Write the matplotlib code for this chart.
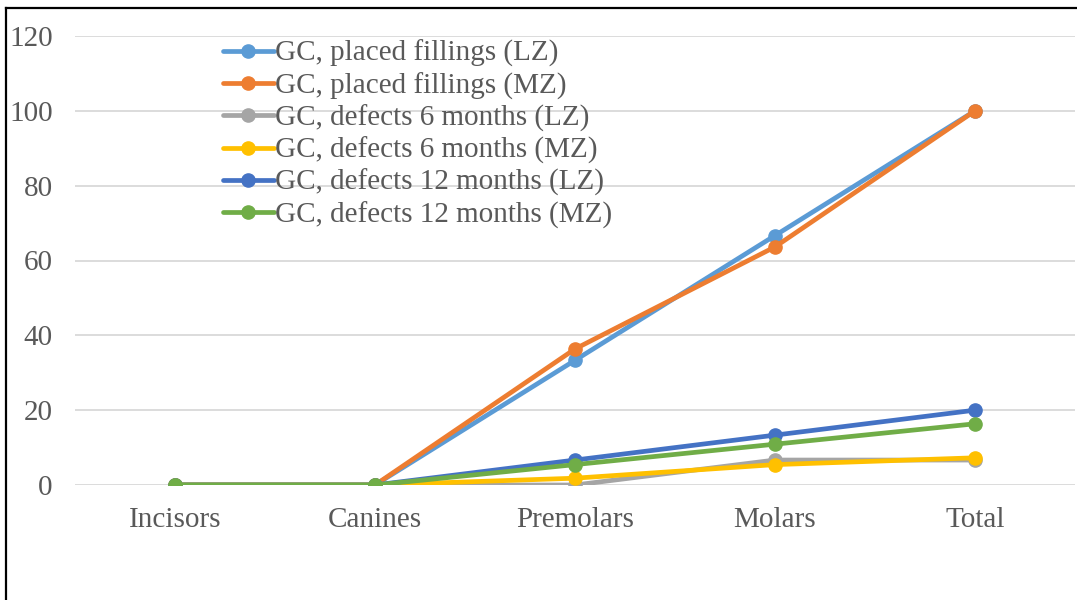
import matplotlib
matplotlib.use('Agg')
import matplotlib.pyplot as plt
from matplotlib.lines import Line2D

# tooth groups and share of fillings / defects (%)
teeth = ['Incisors', 'Canines', 'Premolars', 'Molars', 'Total']

placed_lz = [0, 0, 33.33, 66.67, 100]
placed_mz = [0, 0, 36.36, 63.64, 100]
defects6_lz = [0, 0, 0, 6.67, 6.67]
defects6_mz = [0, 0, 1.82, 5.45, 7.27]
defects12_lz = [0, 0, 6.67, 13.33, 20]
defects12_mz = [0, 0, 5.45, 10.91, 16.36]

names = ['GC, placed fillings (LZ)', 'GC, placed fillings (MZ)',
         'GC, defects 6 months (LZ)', 'GC, defects 6 months (MZ)',
         'GC, defects 12 months (LZ)', 'GC, defects 12 months (MZ)']
colors = ['#5B9BD5', '#ED7D31', '#A5A5A5', '#FFC000', '#4472C4', '#70AD47']
series = [placed_lz, placed_mz, defects6_lz, defects6_mz, defects12_lz, defects12_mz]

plt.rcParams['font.family'] = ['Liberation Serif', 'DejaVu Serif']
txt = '#595959'

fig = plt.figure(figsize=(10.77, 6.0), dpi=100)
ax = fig.add_axes([75/1077, 115/600, 1000/1077, 449/600])

x = range(len(teeth))
for vals, name, c in zip(series, names, colors):
    ax.plot(x, vals, '-o', color=c, lw=3.4, ms=9.5, label=name,
            solid_capstyle='round', zorder=3)

ax.set_xlim(-0.5, len(teeth) - 0.5)
ax.set_ylim(0, 120)
ax.set_yticks(range(0, 121, 20))
ax.set_xticks(list(x))
ax.set_xticklabels(teeth)
ax.grid(axis='y', color='#d9d9d9', lw=1.3)
ax.set_axisbelow(True)
for s in ax.spines.values():
    s.set_visible(False)
ax.tick_params(axis='both', length=0, labelsize=21, colors=txt)
ax.tick_params(axis='y', pad=16)
ax.tick_params(axis='x', pad=16)

leg = ax.legend(loc='upper left', bbox_to_anchor=(136/1000, 1.017), frameon=False,
                fontsize=21, handlelength=1.75, handletextpad=0.05,
                labelspacing=0.17, borderaxespad=0)
for t in leg.get_texts():
    t.set_color(txt)

# outer frame, left and top edges only
fig.add_artist(Line2D([5.5/1077, 5.5/1077], [0, 1 - 7.5/600], transform=fig.transFigure,
                      color='black', lw=1.6))
fig.add_artist(Line2D([5.5/1077, 1], [1 - 7.5/600, 1 - 7.5/600], transform=fig.transFigure,
                      color='black', lw=1.6))

fig.savefig('out.png', dpi=100)
